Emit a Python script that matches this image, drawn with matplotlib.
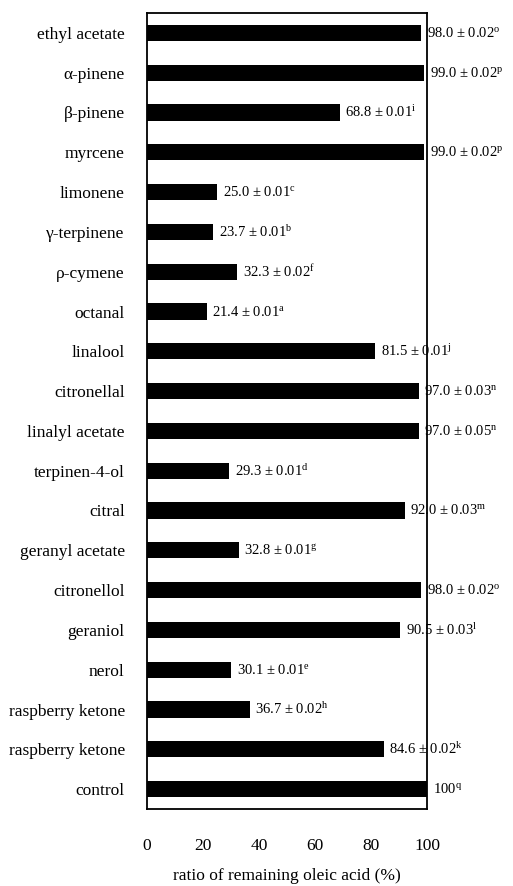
import matplotlib
matplotlib.use("Agg")
import matplotlib.pyplot as plt

# compounds, top to bottom
compounds = ['ethyl acetate', 'α-pinene', 'β-pinene', 'myrcene', 'limonene',
             'γ-terpinene', 'ρ-cymene', 'octanal', 'linalool', 'citronellal',
             'linalyl acetate', 'terpinen-4-ol', 'citral', 'geranyl acetate',
             'citronellol', 'geraniol', 'nerol', 'raspberry ketone',
             'raspberry ketone', 'control']
ratio = [98.0, 99.0, 68.8, 99.0, 25.0, 23.7, 32.3, 21.4, 81.5, 97.0,
         97.0, 29.3, 92.0, 32.8, 98.0, 90.5, 30.1, 36.7, 84.6, 100]
sd = ['0.02', '0.02', '0.01', '0.02', '0.01', '0.01', '0.02', '0.01', '0.01', '0.03',
      '0.05', '0.01', '0.03', '0.01', '0.02', '0.03', '0.01', '0.02', '0.02', None]
letters = ['o', 'p', 'i', 'p', 'c', 'b', 'f', 'a', 'j', 'n',
           'n', 'd', 'm', 'g', 'o', 'l', 'e', 'h', 'k', 'q']
xticks = [0, 20, 40, 60, 80, 100]

plt.rcParams['font.family'] = ['Liberation Serif', 'DejaVu Serif']
plt.rcParams['mathtext.fontset'] = 'custom'
plt.rcParams['mathtext.rm'] = 'Liberation Serif'
plt.rcParams['mathtext.it'] = 'Liberation Serif'

fig = plt.figure(figsize=(5.13, 8.86), dpi=100)
ax = fig.add_axes([147 / 513, 1 - 809 / 886, 280 / 513, 796 / 886])

pos = list(range(len(compounds)))
ax.barh(pos, ratio, height=0.41, color='black', edgecolor='none')

for i, (v, s, l) in enumerate(zip(ratio, sd, letters)):
    if s is None:
        txt = '%d$^{\\mathrm{%s}}$' % (v, l)
    else:
        txt = '%.1f ± %s$^{\\mathrm{%s}}$' % (v, s, l)
    ax.annotate(txt, (v, i), xytext=(4, 0), textcoords='offset points',
                va='center', ha='left', fontsize=10.5, annotation_clip=False)

ax.set_xlim(0, 100)
ax.set_ylim(19.5, -0.5)
ax.set_yticks(pos)
ax.set_yticklabels(compounds, fontsize=12.5)
ax.set_xticks(xticks)
ax.set_xticklabels([str(t) for t in xticks], fontsize=12.5)
ax.tick_params(axis='y', length=0, pad=16)
ax.tick_params(axis='x', length=0, pad=21)
for sp in ax.spines.values():
    sp.set_linewidth(1.3)
ax.set_xlabel('ratio of remaining oleic acid (%)', fontsize=12.5, labelpad=10)

fig.savefig('out.png', dpi=100)
